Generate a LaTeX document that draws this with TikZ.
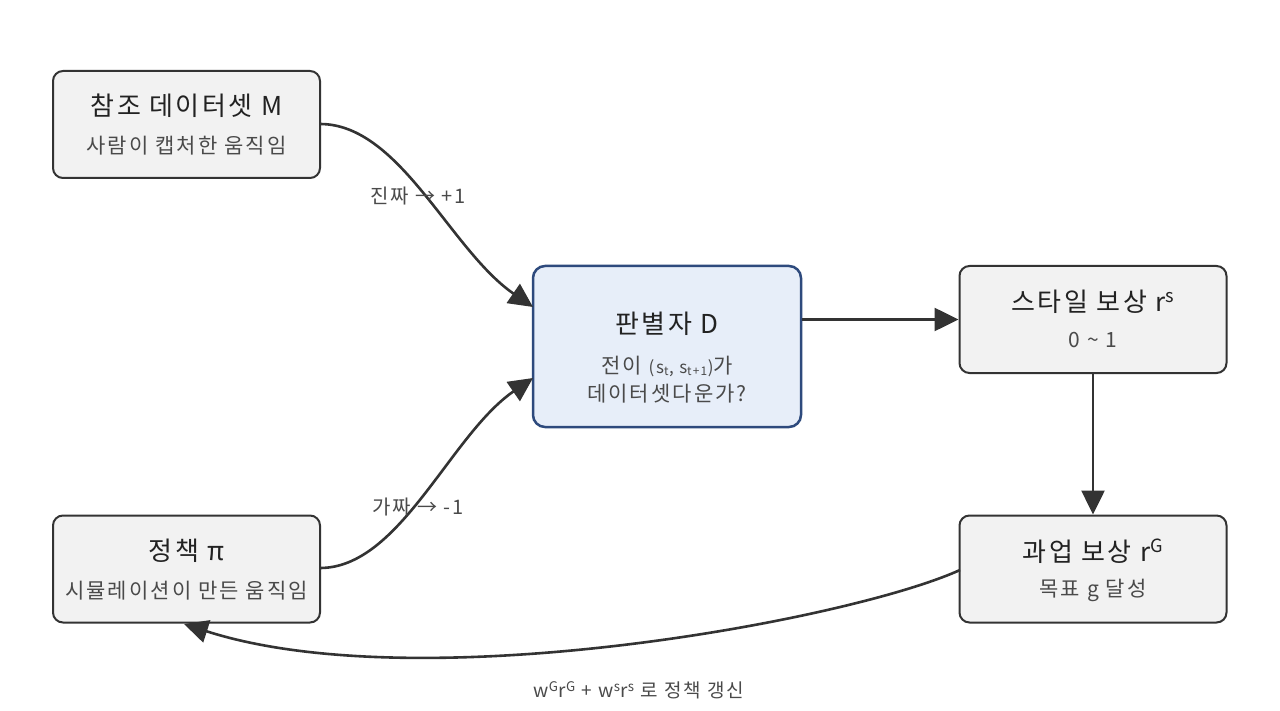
\documentclass[tikz,border=0pt]{standalone}
\usepackage{fontspec}
\setmainfont[LetterSpace=10]{Noto Sans CJK KR}
\usetikzlibrary{arrows.meta}
\definecolor{boxfill}{HTML}{F2F2F2}
\definecolor{boxline}{HTML}{333333}
\definecolor{dfill}{HTML}{E7EEF9}
\definecolor{dline}{HTML}{2E4A7D}
\definecolor{titlec}{HTML}{222222}
\definecolor{subc}{HTML}{4A4A4A}
\definecolor{edgec}{HTML}{333333}
\tikzset{
  box/.style={draw=boxline, fill=boxfill, line width=2pt, rounded corners=10pt, minimum width=267pt, minimum height=107pt, inner sep=0pt},
  dbox/.style={draw=dline, fill=dfill, line width=2.5pt, rounded corners=12pt, minimum width=268pt, minimum height=161pt, inner sep=0pt},
  ttl/.style={text=titlec, font=\fontsize{26}{30}\selectfont, inner sep=0pt},
  sub/.style={text=subc, font=\fontsize{21}{25}\selectfont, inner sep=0pt},
  elab/.style={text=subc, font=\fontsize{20}{24}\selectfont, inner sep=0pt},
  blab/.style={text=subc, font=\fontsize{19}{23}\selectfont, inner sep=0pt},
  conn/.style={draw=edgec, line width=2.6pt, -{Triangle[length=24pt,width=23pt]}},
}
\begin{document}
\begin{tikzpicture}[x=1pt,y=-1pt]
\useasboundingbox[fill=white] (0,0) rectangle (1280,711);
% boxes
\node[box] (M) at (186.5,124.5) {};
\node[box] (P) at (186.5,569) {};
\node[dbox] (D) at (667,346.5) {};
\node[box] (S) at (1093,319.5) {};
\node[box] (G) at (1093,569) {};
% texts
\node[ttl] (Mt) at (186.5,106) {참조 데이터셋 M};
\node[sub] (Ms) at (186.5,146) {사람이 캡처한 움직임};
\node[ttl] (Pt) at (186.5,551) {정책 π};
\node[sub] (Ps) at (186.5,591) {시뮬레이션이 만든 움직임};
\node[ttl] (Dt) at (667,324) {판별자 D};
\node[sub] (Ds1) at (667,366) {전이 {\fontsize{17}{21}\selectfont (s\textsubscript{t}, s\textsubscript{t+1})}가};
\node[sub] (Ds2) at (667,394) {데이터셋다운가?};
\node[ttl] (St) at (1093,302) {스타일 보상 r\textsuperscript{s}};
\node[sub] (Ss) at (1093,340) {0 \char"007E{} 1};
\node[ttl] (Gt) at (1093,551) {과업 보상 r\textsuperscript{G}};
\node[sub] (Gs) at (1093,590) {목표 g 달성};
% connectors
\coordinate (Mout) at (320,124);
\coordinate (Pout) at (320,568);
\coordinate (Din1) at (533,307);
\coordinate (Din2) at (533,378);
\coordinate (Gout) at (960,570);
\coordinate (Pin) at (184,624);
\draw[conn] (Mout) .. controls (400,124) and (450,250) .. (Din1);
\draw[conn] (Pout) .. controls (400,568) and (450,435) .. (Din2);
\draw[conn] (D.east |- S.west) -- (S.west);
\draw[conn] (S.south) -- (G.north);
\draw[conn] (Gout) .. controls (850,620) and (420,700) .. (Pin);
% edge labels
\node[elab] (L1) at (418,196) {진짜 → +1};
\node[elab] (L2) at (418,507) {가짜 → -1};
\node[blab] (L3) at (639,690) {w\textsuperscript{G}r\textsuperscript{G} + w\textsuperscript{s}r\textsuperscript{s} 로 정책 갱신};
\end{tikzpicture}
\end{document}
